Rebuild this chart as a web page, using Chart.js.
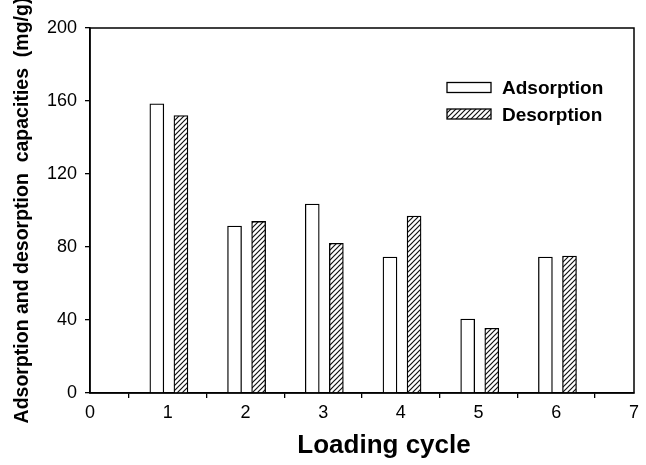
<!DOCTYPE html>
<html>
<head>
<meta charset="utf-8">
<script src="https://cdn.jsdelivr.net/npm/chart.js@4"></script>
<style>
  body { margin: 0; background: #fff; }
  #wrap { width: 646px; height: 465px; }
</style>
</head>
<body>
<div id="wrap"><canvas id="capChart" width="646" height="465"></canvas></div>
<script>
const cycles = [1, 2, 3, 4, 5, 6];
const adsorption = [158.5, 91.5, 103.5, 74.5, 40.5, 74.5];
const desorption = [152, 94, 82, 97, 35.5, 75];
const yTicks = [0, 40, 80, 120, 160, 200];
const xTicks = [0, 1, 2, 3, 4, 5, 6, 7];
const xTitle = 'Loading cycle';

const FONT = "'Liberation Sans', Arial, sans-serif";

// hatch pattern for desorption bars
function hatch() {
    const c = document.createElement('canvas');
    c.width = 5; c.height = 5;
    const g = c.getContext('2d');
    g.fillStyle = '#fff';
    g.fillRect(0, 0, 5, 5);
    g.strokeStyle = '#111';
    g.lineWidth = 1.2;
    g.beginPath();
    g.moveTo(-1, 6); g.lineTo(6, -1);
    g.moveTo(-1, 1); g.lineTo(1, -1);
    g.moveTo(4, 6); g.lineTo(6, 4);
    g.stroke();
    return g.createPattern(c, 'repeat');
}
const hatchFill = hatch();

const legendItems = [
    { text: 'Adsorption', fill: '#fff' },
    { text: 'Desorption', fill: hatchFill }
];

const insideLegend = {
    id: 'insideLegend',
    afterDraw(chart) {
        const c = chart.ctx;
        const a = chart.chartArea;
        c.save();
        legendItems.forEach((it, i) => {
            const x = a.left + 357, y = a.top + 59.5 + i * 26.5;
            c.fillStyle = it.fill;
            c.fillRect(x, y - 5, 44, 10);
            c.strokeStyle = '#000';
            c.lineWidth = 1.3;
            c.strokeRect(x, y - 5, 44, 10);
            c.fillStyle = '#000';
            c.font = 'bold 19px ' + FONT;
            c.textBaseline = 'middle';
            c.fillText(it.text, x + 55, y + 1.5);
        });
        c.restore();
    }
};

// box round the plot and the x title (set a bit right of centre, as in the original)
const frame = {
    id: 'frame',
    afterDraw(chart) {
        const c = chart.ctx;
        const a = chart.chartArea;
        c.save();
        c.strokeStyle = '#000';
        c.lineWidth = 1.5;
        c.strokeRect(a.left, a.top, a.right - a.left, a.bottom - a.top);
        c.fillStyle = '#000';
        c.font = 'bold 26px ' + FONT;
        c.textAlign = 'center';
        c.textBaseline = 'middle';
        c.fillText(xTitle, (a.left + a.right) / 2 + 22, 446);
        c.restore();
    }
};

const ctx = document.getElementById('capChart').getContext('2d');
const capChart = new Chart(ctx, {
    type: 'bar',
    data: {
        datasets: [{
            label: 'Adsorption',
            data: cycles.map((c, i) => ({ x: c - 0.14, y: adsorption[i] })),
            backgroundColor: '#fff',
            borderColor: '#000',
            borderWidth: 1.3,
            borderSkipped: 'bottom',
            barThickness: 14
        }, {
            label: 'Desorption',
            data: cycles.map((c, i) => ({ x: c + 0.17, y: desorption[i] })),
            backgroundColor: hatchFill,
            borderColor: '#000',
            borderWidth: 1.3,
            borderSkipped: 'bottom',
            barThickness: 14
        }]
    },
    options: {
        responsive: false,
        animation: false,
        grouped: false,
        layout: { padding: { top: 28, right: 12, left: 0, bottom: 0 } },
        plugins: {
            legend: { display: false },
            tooltip: { enabled: false }
        },
        scales: {
            x: {
                type: 'linear',
                offset: false,
                min: 0,
                max: 7,
                afterBuildTicks: s => { s.ticks = xTicks.map(v => ({ value: v })); },
                grid: { display: true, drawOnChartArea: false, tickLength: 5, color: '#000', lineWidth: 1.3 },
                border: { color: '#000', width: 1.5 },
                ticks: {
                    color: '#000',
                    padding: 4,
                    font: { family: FONT, size: 18 }
                },
                afterFit: s => { s.height = 72; }
            },
            y: {
                min: 0,
                max: 200,
                afterBuildTicks: s => { s.ticks = yTicks.map(v => ({ value: v })); },
                grid: { display: true, drawOnChartArea: false, tickLength: 5, color: '#000', lineWidth: 1.3 },
                border: { color: '#000', width: 1.5 },
                ticks: {
                    color: '#000',
                    padding: 8,
                    font: { family: FONT, size: 18 }
                },
                title: {
                    display: true,
                    text: 'Adsorption and desorption  capacities  (mg/g)',
                    color: '#000',
                    padding: { top: 11, bottom: 4 },
                    font: { family: FONT, size: 19.5, weight: 'bold' }
                },
                afterFit: s => { s.width = 90; }
            }
        }
    },
    plugins: [frame, insideLegend]
});
</script>
</body>
</html>
